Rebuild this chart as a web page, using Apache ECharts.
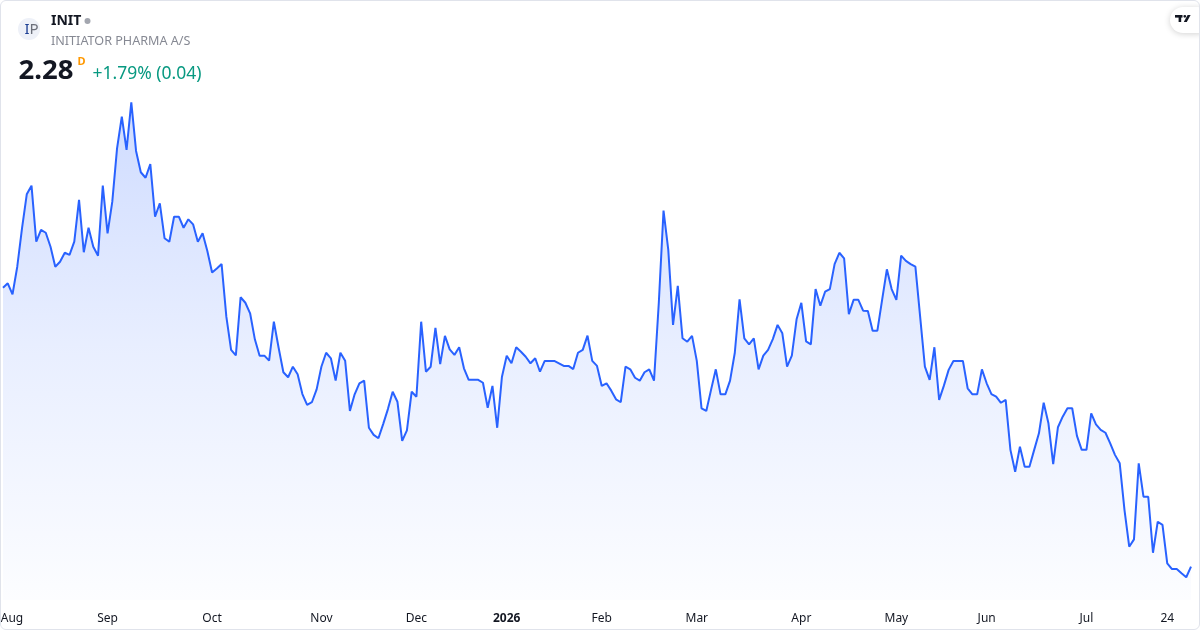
<!DOCTYPE html>
<html>
<head>
<meta charset="utf-8">
<script src="https://cdn.jsdelivr.net/npm/echarts@6/dist/echarts.min.js"></script>
<style>
html,body{margin:0;padding:0;background:#fff;}
#wrap{position:relative;width:1200px;height:630px;overflow:hidden;}
#chart{position:absolute;left:0;top:0;width:1200px;height:630px;}
#frame{position:absolute;left:0;top:0;width:1200px;height:630px;box-sizing:border-box;border:1px solid #e0e3eb;border-radius:6px;pointer-events:none;}
</style>
</head>
<body>
<div id="wrap"><div id="chart"></div><div id="frame"></div></div>
<script>
// ---- header texts ----
const tickerSymbol = 'INIT';
const companyName = 'INITIATOR PHARMA A/S';
const lastPriceText = '2.28';
const changeText = '+1.79% (0.04)';

// ---- trading calendar (categories) ----
const firstTradingDay = '2025-07-31';
const marketHolidays = ['2025-12-24','2025-12-25','2025-12-26','2025-12-31','2026-01-01','2026-01-06',
  '2026-04-03','2026-04-06','2026-05-01','2026-05-14','2026-06-19'];
const monthNames = ['Jan','Feb','Mar','Apr','May','Jun','Jul','Aug','Sep','Oct','Nov','Dec'];
const dayMarkerDate = '2026-07-24';

// ---- daily close prices ----
const closePrices = [
  3.340,3.357,3.315,3.420,3.566,3.695,3.728,3.515,3.560,3.549,
  3.496,3.420,3.439,3.473,3.465,3.515,3.674,3.475,3.568,3.496,
  3.462,3.728,3.547,3.667,3.870,3.990,3.864,4.045,3.860,3.779,
  3.758,3.810,3.610,3.661,3.528,3.515,3.610,3.610,3.568,3.600,
  3.581,3.515,3.547,3.480,3.398,3.413,3.430,3.230,3.104,3.083,
  3.304,3.283,3.243,3.144,3.082,3.082,3.063,3.211,3.112,3.019,
  3.000,3.040,3.011,2.936,2.895,2.905,2.954,3.040,3.093,3.072,
  2.987,3.093,3.063,2.872,2.935,2.977,2.987,2.808,2.781,2.768,
  2.822,2.879,2.945,2.907,2.758,2.798,2.945,2.926,3.211,3.021,
  3.040,3.188,3.050,3.157,3.106,3.085,3.114,3.034,2.990,2.990,
  2.990,2.979,2.884,2.967,2.808,3.002,3.082,3.053,3.114,3.097,
  3.078,3.053,3.072,3.021,3.062,3.062,3.062,3.053,3.043,3.043,
  3.031,3.093,3.104,3.158,3.062,3.043,2.967,2.977,2.949,2.916,
  2.905,3.040,3.030,2.998,2.987,3.019,3.030,2.987,3.281,3.633,
  3.484,3.199,3.347,3.148,3.135,3.157,3.062,2.882,2.872,2.952,
  3.030,2.935,2.935,2.987,3.093,3.296,3.148,3.125,3.148,3.030,
  3.082,3.104,3.145,3.199,3.167,3.040,3.082,3.220,3.283,3.136,
  3.125,3.335,3.272,3.325,3.335,3.430,3.473,3.452,3.240,3.294,
  3.294,3.253,3.252,3.177,3.177,3.294,3.410,3.335,3.294,3.462,
  3.442,3.430,3.420,3.230,3.040,2.990,3.114,2.914,2.968,3.028,
  3.062,3.062,3.062,2.958,2.935,2.935,3.030,2.977,2.936,2.926,
  2.903,2.914,2.724,2.641,2.736,2.660,2.660,2.724,2.787,2.903,
  2.825,2.670,2.810,2.850,2.882,2.882,2.777,2.724,2.724,2.863,
  2.821,2.800,2.789,2.749,2.705,2.673,2.496,2.356,2.384,2.673,
  2.546,2.546,2.333,2.451,2.439,2.293,2.271,2.271,2.255,2.240,2.280
];

// build trading dates (weekdays minus holidays)
const tradingDates = [];
(function(){
  const hol = new Set(marketHolidays);
  let d = new Date(firstTradingDay + 'T00:00:00Z');
  while (tradingDates.length < closePrices.length) {
    const wd = d.getUTCDay();
    const s = d.toISOString().slice(0,10);
    if (wd !== 0 && wd !== 6 && !hol.has(s)) tradingDates.push(s);
    d = new Date(d.getTime() + 86400000);
  }
})();

// label positions: first trading day of each month + day marker
const labelIdx = new Set();
tradingDates.forEach((s,i)=>{
  if (i>0 && s.slice(0,7) !== tradingDates[i-1].slice(0,7)) labelIdx.add(i);
  if (s === dayMarkerDate) labelIdx.add(i);
});

const FONT = '"Noto Sans", "Open Sans", sans-serif';
const chart = echarts.init(document.getElementById('chart'), null, {renderer:'canvas'});

chart.setOption({
  animation: false,
  backgroundColor: '#ffffff',
  grid: { left: 3, right: 9, top: 90, bottom: 30, containLabel: false, outerBoundsMode: 'none' },
  xAxis: {
    type: 'category',
    data: tradingDates,
    boundaryGap: false,
    axisLine: { show: false },
    axisTick: { show: false },
    splitLine: { show: false },
    axisLabel: {
      interval: (i) => labelIdx.has(i),
      margin: 13,
      color: '#131722',
      fontSize: 12,
      fontFamily: FONT,
      formatter: (val, i) => {
        if (val === dayMarkerDate) return '24';
        const m = +val.slice(5,7);
        if (m === 1) return '{yr|' + val.slice(0,4) + '}';
        if (i === 1) return '{first|' + monthNames[m-1] + '}';
        return monthNames[m-1];
      },
      rich: {
        yr: { fontWeight: 'bold', fontSize: 12, color: '#131722', fontFamily: FONT },
        first: { fontSize: 12, color: '#131722', fontFamily: FONT, padding: [0,0,0,8.5] }
      }
    }
  },
  yAxis: {
    type: 'value',
    min: 2.1535,
    max: 4.0915,
    show: false,
    splitLine: { show: false }
  },
  series: [{
    type: 'line',
    data: closePrices,
    showSymbol: false,
    smooth: false,
    lineStyle: { color: '#2962ff', width: 2 },
    itemStyle: { color: '#2962ff' },
    areaStyle: {
      color: new echarts.graphic.LinearGradient(0,0,0,1,[
        { offset: 0, color: 'rgba(41,98,255,0.32)' },
        { offset: 0.5, color: 'rgba(41,98,255,0.15)' },
        { offset: 1, color: 'rgba(41,98,255,0.02)' }
      ])
    }
  }],
  graphic: [
    { type: 'circle', shape: { cx: 29, cy: 29, r: 11 }, style: { fill: '#eef1f8' } },
    { type: 'text', x: 31.5, y: 29.5, style: { text: '{a|I}{b|P}', textAlign: 'center', verticalAlign: 'middle', textVerticalAlign: 'middle',
        rich: { a: { fill: '#1c3f94', fontSize: 15, fontFamily: FONT }, b: { fill: '#6b6f7a', fontSize: 15, fontFamily: FONT } } } },
    { type: 'text', x: 51, y: 21, style: { text: tickerSymbol, fill: '#131722', font: 'bold 14px ' + FONT, verticalAlign: 'middle', textVerticalAlign: 'middle' } },
    { type: 'circle', shape: { cx: 87.5, cy: 21, r: 3 }, style: { fill: '#a3a6af' } },
    { type: 'text', x: 51, y: 41, style: { text: companyName, fill: '#868993', font: '12.6px ' + FONT, verticalAlign: 'middle', textVerticalAlign: 'middle' } },
    { type: 'text', x: 18.5, y: 71, style: { text: lastPriceText, fill: '#131722', font: 'bold 27.5px ' + FONT, verticalAlign: 'middle', textVerticalAlign: 'middle' } },
    { type: 'text', x: 77.5, y: 61.5, style: { text: 'D', fill: '#ff9800', font: 'bold 11px ' + FONT, verticalAlign: 'middle', textVerticalAlign: 'middle' } },
    { type: 'text', x: 92.5, y: 74, style: { text: changeText, fill: '#089981', font: '17.5px ' + FONT, verticalAlign: 'middle', textVerticalAlign: 'middle' } },
    // TradingView badge
    { type: 'rect', shape: { x: 1170, y: 7, width: 40, height: 26, r: 13 }, style: { fill: '#ffffff', shadowBlur: 6, shadowColor: 'rgba(0,0,0,0.18)', shadowOffsetY: 1 } },
    { type: 'rect', shape: { x: 1175, y: 15, width: 7.5, height: 2.6 }, style: { fill: '#131722' } },
    { type: 'rect', shape: { x: 1178.6, y: 15, width: 2.6, height: 7 }, style: { fill: '#131722' } },
    { type: 'circle', shape: { cx: 1184.8, cy: 16.3, r: 1.4 }, style: { fill: '#131722' } },
    { type: 'polygon', shape: { points: [[1187.6,15],[1190.6,15],[1186.8,22],[1183.8,22]] }, style: { fill: '#131722' } }
  ]
});
</script>
</body>
</html>
